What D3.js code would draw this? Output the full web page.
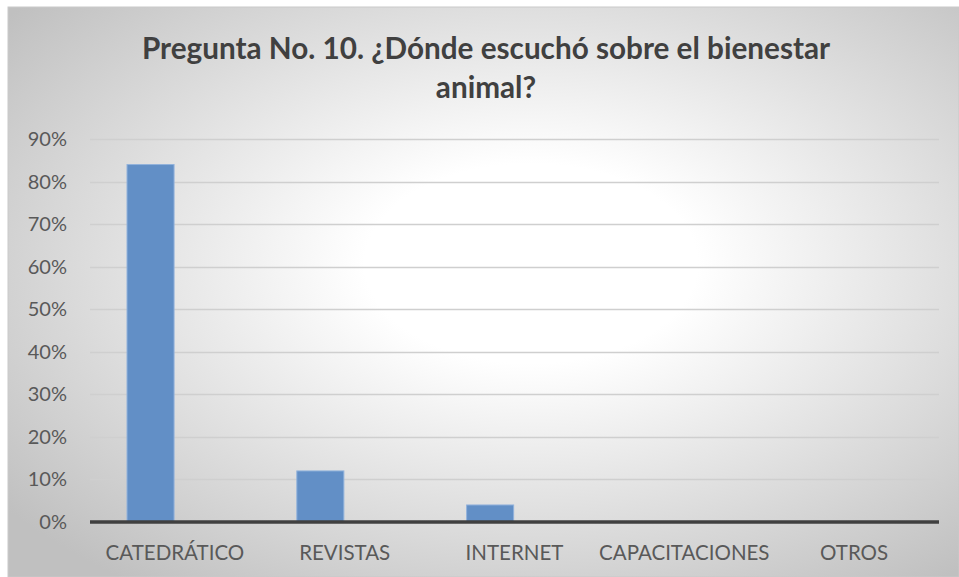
<!DOCTYPE html>
<html>
<head>
<meta charset="utf-8">
<script src="https://cdn.jsdelivr.net/npm/d3@7"></script>
<style>
  body { margin: 0; background: #fff; }
  text { font-family: Lato, "Open Sans", sans-serif; }
</style>
</head>
<body>
<div id="chart"></div>
<script>
const categories = ['CATEDRÁTICO', 'REVISTAS', 'INTERNET', 'CAPACITACIONES', 'OTROS'];
const values = [0.84, 0.12, 0.04, 0, 0];
const yTicks = [0, 0.1, 0.2, 0.3, 0.4, 0.5, 0.6, 0.7, 0.8, 0.9];
const titleLines = ['Pregunta No. 10. ¿Dónde escuchó sobre el bienestar', 'animal?'];

const width = 959;
const height = 577;
const plot = {left: 90, right: 939, top: 139, bottom: 522};

let svg = d3.select('#chart').append('svg')
  .attr('width', width)
  .attr('height', height)

let grad = svg.append('defs').append('radialGradient')
  .attr('id', 'bg')
  .attr('cx', '55%').attr('cy', '45%').attr('r', '70%')
grad.append('stop').attr('offset', '0%').attr('stop-color', '#ffffff')
grad.append('stop').attr('offset', '25%').attr('stop-color', '#ffffff')
grad.append('stop').attr('offset', '100%').attr('stop-color', '#c0c0c0')

// chart area with its thin border
svg.append('rect')
  .attr('x', 8).attr('y', 7)
  .attr('width', width - 8).attr('height', height - 7)
  .attr('fill', 'url(#bg)')
  .attr('stroke', '#c9c9c9')
  .attr('stroke-width', 1)

// title
svg.selectAll('text.title').data(titleLines)
  .enter().append('text')
    .classed('title', true)
    .attr('x', 486)
    .attr('y', (d, i) => 59 + i * 39)
    .attr('text-anchor', 'middle')
    .attr('font-size', 29.7)
    .attr('font-weight', 'bold')
    .attr('fill', '#404040')
    .text(d => d)

let x = d3.scaleBand()
  .domain(categories)
  .range([plot.left, plot.right])

let y = d3.scaleLinear()
  .domain([0, 0.9])
  .range([plot.bottom, plot.top])

// gridlines
svg.selectAll('line.grid').data(yTicks.slice(1))
  .enter().append('line')
    .classed('grid', true)
    .attr('x1', plot.left).attr('x2', plot.right)
    .attr('y1', d => Math.round(y(d)) + 0.5)
    .attr('y2', d => Math.round(y(d)) + 0.5)
    .attr('stroke', '#cfcfcf')
    .attr('stroke-width', 1.3)

// y tick labels
svg.selectAll('text.ytick').data(yTicks)
  .enter().append('text')
    .classed('ytick', true)
    .attr('x', 67)
    .attr('y', d => y(d) + 7)
    .attr('text-anchor', 'end')
    .attr('font-size', 20)
    .attr('fill', '#595959')
    .text(d3.format('.0%'))

// bars (Excel draws them left of the label centre)
let bw = x.bandwidth();
svg.selectAll('rect.bar').data(values)
  .enter().append('rect')
    .classed('bar', true)
    .attr('x', (d, i) => x(categories[i]) + bw * 0.218)
    .attr('y', d => y(d))
    .attr('width', bw * 0.277)
    .attr('height', d => plot.bottom - y(d))
    .attr('fill', '#628fc6')
    .attr('stroke', '#91b2dc')
    .attr('stroke-width', 1)
    .style('display', d => d > 0 ? null : 'none')

// x axis line
svg.append('line')
  .attr('x1', plot.left).attr('x2', plot.right)
  .attr('y1', plot.bottom).attr('y2', plot.bottom)
  .attr('stroke', '#404040')
  .attr('stroke-width', 3.5)

// category labels
svg.selectAll('text.xtick').data(categories)
  .enter().append('text')
    .classed('xtick', true)
    .attr('x', d => x(d) + bw / 2)
    .attr('y', 560)
    .attr('text-anchor', 'middle')
    .attr('font-size', 20.5)
    .attr('fill', '#595959')
    .text(d => d)
</script>
</body>
</html>
